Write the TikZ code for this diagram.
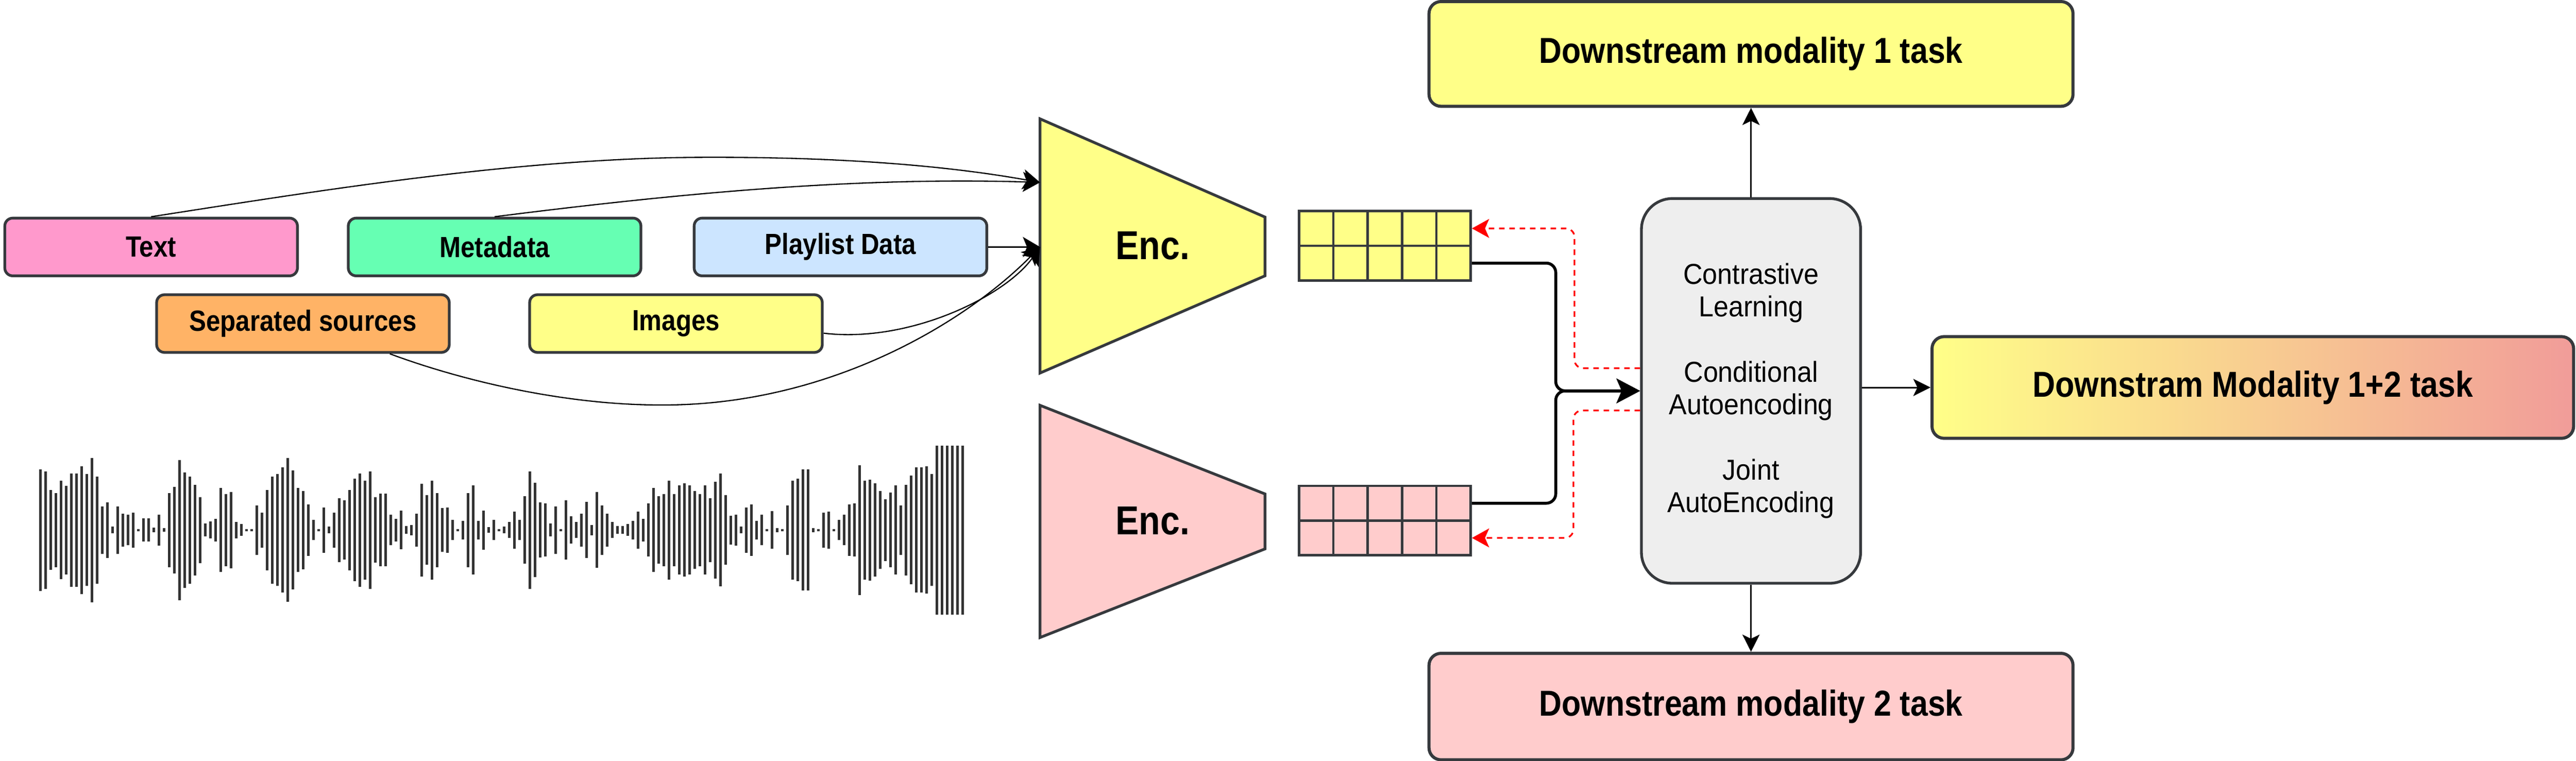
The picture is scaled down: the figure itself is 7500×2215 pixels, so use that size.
\documentclass[tikz,border=0pt]{standalone}
\usepackage{fontspec}
\setmainfont{Liberation Sans}
\newfontfamily\lblfont[FakeStretch=0.87]{Liberation Sans}
\newfontfamily\txtfont[FakeStretch=0.93]{Liberation Sans}
\usetikzlibrary{positioning,arrows.meta}
\definecolor{strk}{HTML}{36393D}
\definecolor{wave}{HTML}{333333}
\definecolor{pnk}{HTML}{FF99CC}
\definecolor{grn}{HTML}{66FFB3}
\definecolor{blu}{HTML}{CCE5FF}
\definecolor{org}{HTML}{FFB366}
\definecolor{ylw}{HTML}{FFFF88}
\definecolor{rose}{HTML}{FFCCCC}
\definecolor{gry}{HTML}{EEEEEE}
\definecolor{sal}{HTML}{F19C99}
\begin{document}
\begin{tikzpicture}[x=0.2pt, y=-0.2pt,
        inbox/.style={draw=strk, line width=1.6pt, rounded corners=4.6pt, minimum width=170.4pt, minimum height=33.6pt, inner sep=0pt, font=\lblfont\bfseries\fontsize{17}{20}\selectfont},
        taskbox/.style={draw=strk, line width=1.8pt, rounded corners=7pt, minimum width=375pt, minimum height=61pt, inner sep=0pt, font=\lblfont\bfseries\fontsize{21}{25}\selectfont},
        cenbox/.style={draw=strk, fill=gry, line width=1.6pt, rounded corners=18pt, minimum width=127.6pt, minimum height=224pt, inner sep=0pt, align=center, font=\txtfont\fontsize{16.8}{19}\selectfont},
        cell/.style={draw=strk, line width=1.4pt, minimum width=20pt, minimum height=20.2pt, inner sep=0pt},
        encshape/.style={draw=strk, line width=1.6pt},
        enclbl/.style={font=\lblfont\bfseries\fontsize{23.5}{28}\selectfont},
        inarrow/.style={line width=0.7pt, -{Stealth[length=10pt, width=11.7pt, inset=2.4pt]}},
        feat/.style={line width=1.7pt, rounded corners=5.5pt, -{Stealth[length=13.7pt, width=14.3pt, inset=3pt]}},
        fbk/.style={red, line width=1pt, dash pattern=on 3.2pt off 2.8pt, rounded corners=5pt, -{Stealth[length=10pt, width=11pt, inset=2.4pt]}},
        outarrow/.style={line width=0.9pt, -{Stealth[length=10pt, width=10pt, inset=2.4pt]}},
        bar/.style={draw=wave, line width=1.4pt}]
            \useasboundingbox (0,0) rectangle (7500,2215);

            \node[inbox, fill=pnk] (txt) at (440,719) {Text};
            \node[inbox, fill=grn] (md) [right=28pt of txt] {Metadata};
            \node[inbox, fill=blu] (pl) [right=29.4pt of md] {Playlist Data};
            \node[inbox, fill=org] (ss) at (882,942) {Separated sources};
            \node[inbox, fill=ylw] (img) [right=45.2pt of ss] {Images};

            \draw[encshape, fill=ylw] (3028,346) -- (3683,632) -- (3683,803) -- (3028,1086) -- cycle;
            \draw[encshape, fill=rose] (3028,1180) -- (3683,1438) -- (3683,1598) -- (3028,1856) -- cycle;
            \coordinate (eyin) at (3028,531);
            \coordinate (eymid) at (3028,719);
            \node[enclbl] (ey) at (3356,716) {Enc.};
            \node[enclbl] (ep) at (3356,1516) {Enc.};

            \foreach \r in {1,2}
                \foreach \c in {1,...,5} {
                    \node[cell, fill=ylw] (yc\r\c) at ({3732+100*\c},{564+101*\r}) {};
                    \node[cell, fill=rose] (pc\r\c) at ({3732+100*\c},{1364+101*\r}) {};
                }

            \node[cenbox] (cen) at (5098,1138) {Contrastive\\Learning\\[19pt]Conditional\\Autoencoding\\[19pt]Joint\\AutoEncoding};
            \node[taskbox, fill=ylw] (top) at (5098,157) {Downstream modality 1 task};
            \node[taskbox, fill=rose, minimum height=62pt] (bot) at (5098,2057) {Downstream modality 2 task};
            \node[taskbox, left color=ylw, right color=sal, minimum width=373.6pt, minimum height=59.2pt] (rb) at (6559,1128) {Downstram Modality 1+2 task};

            \draw[inarrow] (txt.north) .. controls (900,560) and (1500,460) .. (2041,458) .. controls (2500,456) and (2800,490) .. (eyin);
            \draw[inarrow] (md.north) .. controls (2000,560) and (2500,515) .. (eyin);
            \draw[inarrow] (pl.east) -- (eymid);
            \draw[inarrow] ([yshift=-5.6pt]img.east) .. controls (2650,1000) and (2930,860) .. (eymid);
            \draw[inarrow] ([xshift=50.6pt]ss.south) .. controls (1350,1110) and (1650,1180) .. (1929,1179) .. controls (2400,1180) and (2800,950) .. (eymid);

            \draw[feat] (yc25.east) -- ++(244,0) |- (cen.west);
            \draw[feat] (pc15.east) -- ++(244,0) |- (cen.west);
            \draw[fbk] ([yshift=13.2pt]cen.west) -- ++(-191,0) |- (yc15.east);
            \draw[fbk] ([yshift=-11.4pt]cen.west) -- ++(-194,0) |- (pc25.east);

            \draw[outarrow] (cen.north) -- (top.south);
            \draw[outarrow] (cen.south) -- (bot.north);
            \draw[outarrow] (cen.east |- rb.west) -- (rb.west);

            \foreach \h [count=\n from 0] in {177,171,116,108,143,129,165,165,186,163,210,156,
                    69,81,10,69,48,44,51,3,34,34,7,45,5,108,126,204,168,156,132,96,
                    19,25,33,122,105,111,24,17,3,3,72,51,117,156,163,182,209,173,122,114,75,29,
                    3,66,10,51,93,86,117,149,165,144,171,95,106,106,44,33,56,
                    11,15,48,135,101,144,108,64,66,29,3,27,108,130,27,57,8,29,3,10,
                    23,54,29,98,171,137,80,77,19,69,3,86,40,23,48,82,15,110,72,48,
                    23,11,11,17,27,54,33,77,122,98,105,144,105,130,136,130,113,105,130,93,
                    141,164,101,42,45,10,66,75,27,44,3,55,6,3,72,144,149,176,176,6,
                    3,51,54,3,29,44,75,77,189,144,147,136,113,90,109,130,72,132,158,182,
                    182,185,163,246,246,246,246,246,246}
                \draw[bar] ({118+15*\n},{1543-\h}) -- ++(0,{2*\h});
        \end{tikzpicture}
\end{document}
